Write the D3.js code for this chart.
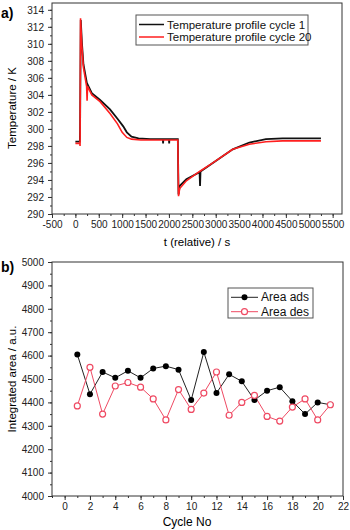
<!DOCTYPE html>
<html>
<head>
<meta charset="utf-8">
<script src="https://cdn.jsdelivr.net/npm/d3@7"></script>
<style>
  body { margin: 0; background: #fff; }
  svg { font-family: "Liberation Sans", Arial, sans-serif; }
  .tick text { font-size: 10px; fill: #222; }
  .domain { display: none; }
  .tick line { stroke: #333; }
</style>
</head>
<body>
<svg width="350" height="530"></svg>
<script>
// panel a) temperature profiles, [t (s), T (K)]
var cycle1 = [
  [0, 298.5], [95, 298.5], [100, 300.0], [115, 312.8], [140, 310.1], [172, 307.6],
  [245, 305.4], [351, 304.2], [528, 303.4], [740, 302.3], [900, 301.2], [1023, 300.3],
  [1100, 299.6], [1200, 299.1], [1350, 298.9], [1600, 298.8], [1870, 298.8],
  [1875, 298.3], [1880, 298.8], [2000, 298.8], [2005, 298.3], [2010, 298.8],
  [2190, 298.8], [2205, 292.3], [2230, 293.3], [2372, 294.1], [2655, 294.9],
  [2665, 293.3], [2675, 295.0], [2938, 296.0], [3364, 297.6], [3719, 298.4],
  [4074, 298.8], [4428, 298.9], [4800, 298.9], [5250, 298.9]
];
var cycle20 = [
  [0, 298.3], [95, 298.3], [100, 298.0], [110, 313.0], [135, 310.0], [170, 307.3],
  [240, 305.0], [250, 303.3], [260, 305.0], [351, 304.0], [528, 303.2], [740, 301.8],
  [900, 300.6], [1000, 299.6], [1100, 299.0], [1200, 298.8], [1400, 298.7],
  [2190, 298.7], [2205, 292.1], [2230, 293.0], [2372, 293.9], [2655, 295.0],
  [2938, 296.0], [3364, 297.6], [3719, 298.2], [4074, 298.5], [4428, 298.6], [5250, 298.6]
];
var tTicks = [-500, 0, 500, 1000, 1500, 2000, 2500, 3000, 3500, 4000, 4500, 5000, 5500];
var tempTicks = [290, 292, 294, 296, 298, 300, 302, 304, 306, 308, 310, 312, 314];

// panel b) integrated areas per cycle
var cycles = [1, 2, 3, 4, 5, 6, 7, 8, 9, 10, 11, 12, 13, 14, 15, 16, 17, 18, 19, 20, 21];
var areaAds = [4605, 4435, 4530, 4505, 4535, 4505, 4545, 4555, 4540, 4410, 4615,
               4440, 4520, 4490, 4410, 4450, 4465, 4405, 4350, 4400, 4390];
var areaDes = [4385, 4550, 4350, 4470, 4485, 4465, 4415, 4325, 4455, 4370, 4440,
               4530, 4345, 4400, 4430, 4340, 4320, 4380, 4415, 4325, 4390];
var cycleTicks = [0, 2, 4, 6, 8, 10, 12, 14, 16, 18, 20, 22];
var areaTicks = [4000, 4100, 4200, 4300, 4400, 4500, 4600, 4700, 4800, 4900, 5000];

var svg = d3.select("svg");
var red = "#ff1f1f", pink = "#ef4a63";
var fmt = d => String(d); // plain hyphen for negatives, like the original

function frame(g, x, y) {
  g.append("rect")
      .attr("x", x.range()[0]).attr("y", y.range()[1])
      .attr("width", x.range()[1] - x.range()[0])
      .attr("height", y.range()[0] - y.range()[1])
      .attr("fill", "none").attr("stroke", "#333").attr("stroke-width", 1);
}

function axes(g, x, y, xt, yt, xMinor, yMinor) {
  var h = y.range()[0], l = x.range()[0];
  g.append("g").attr("transform", "translate(0," + h + ")")
      .call(d3.axisBottom(x).tickValues(xMinor).tickSize(2).tickFormat(""));
  g.append("g").attr("transform", "translate(0," + h + ")")
      .call(d3.axisBottom(x).tickValues(xt).tickSize(4).tickPadding(3).tickFormat(fmt));
  g.append("g").attr("transform", "translate(" + l + ",0)")
      .call(d3.axisLeft(y).tickValues(yMinor).tickSize(2).tickFormat(""));
  g.append("g").attr("transform", "translate(" + l + ",0)")
      .call(d3.axisLeft(y).tickValues(yt).tickSize(4).tickPadding(4).tickFormat(fmt));
}

// ---------- a) ----------
var xa = d3.scaleLinear().domain([-500, 5700]).range([52, 342]);
var ya = d3.scaleLinear().domain([290, 314.8]).range([214, 3]);
var ga = svg.append("g");

axes(ga, xa, ya, tTicks, tempTicks, d3.range(-500, 5701, 250), d3.range(290, 315, 1));

var line = d3.line().x(d => xa(d[0])).y(d => ya(d[1]));
ga.append("path").datum(cycle1).attr("d", line)
    .attr("fill", "none").attr("stroke", "#111").attr("stroke-width", 1.8);
ga.append("path").datum(cycle20).attr("d", line)
    .attr("fill", "none").attr("stroke", red).attr("stroke-width", 1.6);
frame(ga, xa, ya);

var lega = ga.append("g");
lega.append("rect").attr("x", 136).attr("y", 15).attr("width", 172).attr("height", 30)
    .attr("fill", "#fff").attr("stroke", "#555");
[["Temperature profile cycle 1", "#111"], ["Temperature profile cycle 20", red]].forEach((d, i) => {
  var yy = 24.5 + i * 12.5;
  lega.append("line").attr("x1", 139).attr("x2", 164).attr("y1", yy).attr("y2", yy)
      .attr("stroke", d[1]).attr("stroke-width", 1.5);
  lega.append("text").attr("x", 167).attr("y", yy + 4).attr("font-size", 11.5)
      .attr("fill", "#111").text(d[0]);
});

svg.append("text").attr("x", 1).attr("y", 18).attr("font-size", 14)
    .attr("font-weight", "bold").text("a)");
svg.append("text").attr("transform", "translate(16,108) rotate(-90)")
    .attr("text-anchor", "middle").attr("font-size", 11.5).text("Temperature / K");
svg.append("text").attr("x", 197).attr("y", 246).attr("text-anchor", "middle")
    .attr("font-size", 11.5).text("t (relative) / s");

// ---------- b) ----------
var xb = d3.scaleLinear().domain([-1, 22]).range([52, 343]);
var yb = d3.scaleLinear().domain([4000, 5000]).range([496, 262]);
var gb = svg.append("g");

axes(gb, xb, yb, cycleTicks, areaTicks, d3.range(-1, 22.5, 1), d3.range(4000, 5001, 50));

var ads = cycles.map((c, i) => [c, areaAds[i]]);
var des = cycles.map((c, i) => [c, areaDes[i]]);
var lineb = d3.line().x(d => xb(d[0])).y(d => yb(d[1]));

gb.append("path").datum(ads).attr("d", lineb)
    .attr("fill", "none").attr("stroke", "#222").attr("stroke-width", 1);
gb.append("path").datum(des).attr("d", lineb)
    .attr("fill", "none").attr("stroke", pink).attr("stroke-width", 1);
gb.selectAll(".ads").data(ads).join("circle").attr("class", "ads")
    .attr("cx", d => xb(d[0])).attr("cy", d => yb(d[1])).attr("r", 3)
    .attr("fill", "#000");
gb.selectAll(".des").data(des).join("circle").attr("class", "des")
    .attr("cx", d => xb(d[0])).attr("cy", d => yb(d[1])).attr("r", 3)
    .attr("fill", "#fff").attr("stroke", pink).attr("stroke-width", 1.2);
frame(gb, xb, yb);

var legb = gb.append("g");
legb.append("rect").attr("x", 228).attr("y", 288).attr("width", 85).attr("height", 30)
    .attr("fill", "#fff").attr("stroke", "#555");
[["Area ads", "#222", "#000"], ["Area des", pink, "#fff"]].forEach((d, i) => {
  var yy = 297.3 + i * 14.4;
  legb.append("line").attr("x1", 231).attr("x2", 258).attr("y1", yy).attr("y2", yy)
      .attr("stroke", d[1]).attr("stroke-width", 1);
  legb.append("circle").attr("cx", 244.5).attr("cy", yy).attr("r", 3)
      .attr("fill", d[2]).attr("stroke", i ? pink : "none").attr("stroke-width", 1.2);
  legb.append("text").attr("x", 261).attr("y", yy + 4).attr("font-size", 12)
      .attr("fill", "#111").text(d[0]);
});

svg.append("text").attr("x", 1).attr("y", 272).attr("font-size", 14)
    .attr("font-weight", "bold").text("b)");
svg.append("text").attr("transform", "translate(16,379) rotate(-90)")
    .attr("text-anchor", "middle").attr("font-size", 11.5).text("Integrated area / a.u.");
svg.append("text").attr("x", 187).attr("y", 526).attr("text-anchor", "middle")
    .attr("font-size", 12).text("Cycle No");
</script>
</body>
</html>
